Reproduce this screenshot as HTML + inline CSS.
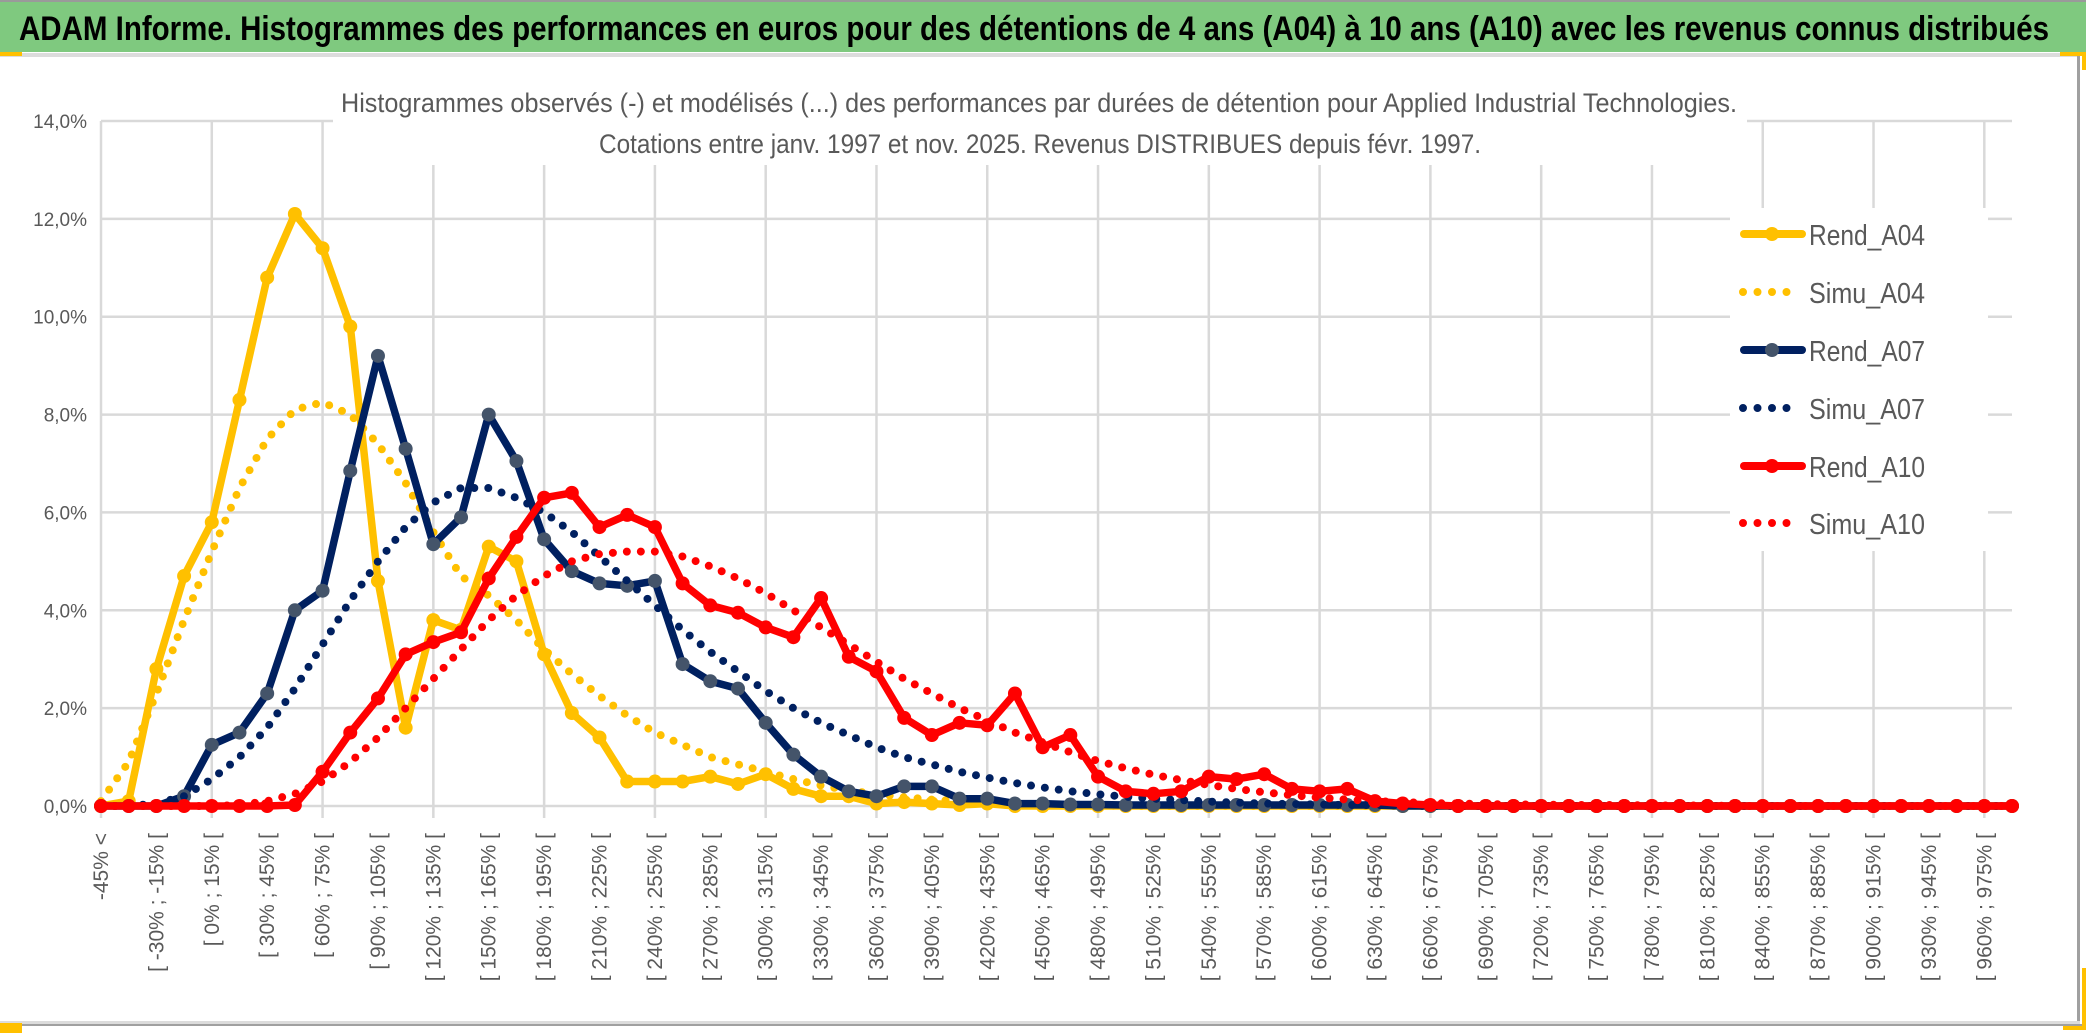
<!DOCTYPE html>
<html><head><meta charset="utf-8"><style>
html,body{margin:0;padding:0;background:#fff;}
svg{display:block;}
</style></head><body>
<svg id="chart" width="2086" height="1033" viewBox="0 0 2086 1033" xmlns="http://www.w3.org/2000/svg">
<rect x="0" y="0" width="2086" height="1033" fill="#fff"/>
<rect x="0" y="0" width="2086" height="2" fill="#9a9a9a"/>
<rect x="0" y="2" width="2086" height="50" fill="#7fc97f"/>
<rect x="0" y="53" width="2078" height="4" fill="#dcdcdc"/>
<rect x="0" y="52" width="22" height="4" fill="#ffc000"/>
<rect x="2060" y="52" width="26" height="4" fill="#ffc000"/>
<rect x="2082" y="52" width="4" height="18" fill="#ffc000"/>
<rect x="2077" y="56" width="3" height="970" fill="#a0a0a0"/>
<rect x="0" y="1021" width="2080" height="3" fill="#dcdcdc"/>
<rect x="0" y="1024" width="2086" height="2" fill="#a0a0a0"/>
<rect x="0" y="1023" width="22" height="10" fill="#ffc000"/>
<rect x="2082" y="968" width="4" height="62" fill="#ffc000"/>
<rect x="2063" y="1026" width="23" height="4" fill="#ffc000"/>
<text x="19" y="40" font-family="Liberation Sans, sans-serif" font-weight="bold" font-size="34" fill="#000" textLength="2030" lengthAdjust="spacingAndGlyphs">ADAM Informe. Histogrammes des performances en euros pour des détentions de 4 ans (A04) à 10 ans (A10) avec les revenus connus distribués</text>
<g id="grid"></g>
<rect x="333" y="80" width="1414" height="85" fill="#fff"/>
<text x="341" y="112" font-family="Liberation Sans, sans-serif" font-size="27" fill="#595959" textLength="1396" lengthAdjust="spacingAndGlyphs">Histogrammes observés (-) et modélisés (...) des performances par durées de détention pour Applied Industrial Technologies.</text>
<text x="599" y="153" font-family="Liberation Sans, sans-serif" font-size="27" fill="#595959" textLength="882" lengthAdjust="spacingAndGlyphs">Cotations entre janv. 1997 et nov. 2025. Revenus DISTRIBUES depuis févr. 1997.</text>
<g id="axes"></g>
<g id="series"></g>
<rect x="1730" y="208" width="258" height="343" fill="#fff"/>
<g id="legend"></g>
</svg>
<script>
const yTicks = [0, 2, 4, 6, 8, 10, 12, 14];
const rendA04 = [0,0.1,2.8,4.7,5.8,8.3,10.8,12.1,11.4,9.8,4.6,1.6,3.8,3.6,5.3,5.0,3.1,1.9,1.4,0.5,0.5,0.5,0.6,0.45,0.65,0.35,0.2,0.2,0.05,0.08,0.05,0.02,0.05,0,0,0,0,0,0,0,0,0,0,0,0,0,0,0,0,0,0,0,0,0,0,0,0,0,0,0,0,0,0,0,0,0,0,0,0,0];
const simuA04 = [0.1,0.9,2.3,3.8,5.2,6.5,7.5,8.1,8.25,8.0,7.4,6.6,5.6,4.7,4.3,3.8,3.2,2.7,2.25,1.85,1.5,1.25,1.0,0.85,0.7,0.55,0.42,0.32,0.24,0.18,0.13,0.1,0.07,0.05,0.03,0.02,0.01,0,0,0,0,0,0,0,0,0,0,0,0,0,0,0,0,0,0,0,0,0,0,0,0,0,0,0,0,0,0,0,0,0];
const rendA07 = [0,0,0,0.2,1.25,1.5,2.3,4.0,4.4,6.85,9.2,7.3,5.35,5.9,8.0,7.05,5.45,4.8,4.55,4.5,4.6,2.9,2.55,2.4,1.7,1.05,0.6,0.3,0.2,0.4,0.4,0.15,0.15,0.05,0.05,0.03,0.03,0.02,0.02,0.02,0.02,0.02,0.02,0.02,0.02,0.02,0.02,0,0,0,0,0,0,0,0,0,0,0,0,0,0,0,0,0,0,0,0,0,0,0];
const simuA07 = [0,0,0.05,0.2,0.55,1.0,1.6,2.4,3.3,4.2,5.0,5.7,6.2,6.5,6.5,6.3,6.0,5.6,5.1,4.6,4.1,3.6,3.15,2.75,2.35,2.0,1.7,1.45,1.2,1.0,0.85,0.7,0.58,0.47,0.38,0.3,0.24,0.19,0.15,0.12,0.09,0.07,0.05,0.04,0.03,0.02,0.02,0.01,0,0,0,0,0,0,0,0,0,0,0,0,0,0,0,0,0,0,0,0,0,0];
const rendA10 = [0,0,0,0,0,0,0,0.02,0.7,1.5,2.2,3.1,3.35,3.55,4.65,5.5,6.3,6.4,5.7,5.95,5.7,4.55,4.1,3.95,3.65,3.45,4.25,3.05,2.75,1.8,1.45,1.7,1.65,2.3,1.2,1.45,0.6,0.3,0.25,0.3,0.6,0.55,0.65,0.35,0.3,0.35,0.1,0.05,0.02,0,0,0,0,0,0,0,0,0,0,0,0,0,0,0,0,0,0,0,0,0];
const simuA10 = [0,0,0,0,0,0.02,0.1,0.25,0.5,0.9,1.4,2.0,2.6,3.2,3.8,4.3,4.7,5.0,5.15,5.2,5.2,5.1,4.9,4.65,4.35,4.0,3.65,3.3,2.95,2.6,2.3,2.0,1.75,1.5,1.3,1.1,0.92,0.77,0.64,0.53,0.43,0.35,0.28,0.22,0.17,0.13,0.1,0.08,0.06,0.05,0.04,0.03,0.03,0.02,0.02,0.02,0.01,0.01,0.01,0,0,0,0,0,0,0,0,0,0,0];
const categories = ["-45% <"];
for (let i = 1; i < 70; i++) { const lo = -45 + 15*(i-1); categories.push("[ " + lo + "% ; " + (lo+15) + "% ["); }

const NS = "http://www.w3.org/2000/svg";
const X0 = 101, X1 = 2012, Y0 = 806, Y14 = 121;
function xs(i){ return X0 + i*(X1-X0)/(categories.length-1); }
function ys(v){ return Y0 - v*(Y0-Y14)/14; }
function mk(tag, attrs, parent){ const e=document.createElementNS(NS,tag); for(const k in attrs) e.setAttribute(k, attrs[k]); parent.appendChild(e); return e; }

const grid = document.getElementById('grid');
yTicks.forEach(t => {
  const l = mk('line',{x1:X0,x2:X1,y1:ys(t),y2:ys(t),stroke:'#d9d9d9','stroke-width':2.5},grid);
  
  
});
for (let i = 0; i < categories.length; i += 4) {
  const l = mk('line',{x1:xs(i),x2:xs(i),y1:ys(14),y2:ys(0)+12,stroke:'#d9d9d9','stroke-width':2.5},grid);
  
  
}
const axes = document.getElementById('axes');
yTicks.forEach(t => {
  const tx = mk('text',{x:87,y:ys(t)+7,'text-anchor':'end','font-family':'Liberation Sans, sans-serif','font-size':19,fill:'#595959'},axes);
  tx.textContent = t.toFixed(1).replace('.',',') + '%';
  
  
});
for (let i = 0; i < categories.length; i += 2) {
  const x = xs(i)+7, y = 833;
  const tx = mk('text',{x:x,y:y,'text-anchor':'end',transform:'rotate(-90 '+x+' '+y+')','font-family':'Liberation Sans, sans-serif','font-size':21,fill:'#595959'},axes);
  tx.textContent = categories[i];
  
  
}

const seriesDefs = [
  {name:'Rend_A04', data:rendA04, color:'#ffc000', dotted:false, marker:'#ffc000'},
  {name:'Simu_A04', data:simuA04, color:'#ffc000', dotted:true},
  {name:'Rend_A07', data:rendA07, color:'#002060', dotted:false, marker:'#44546a'},
  {name:'Simu_A07', data:simuA07, color:'#002060', dotted:true},
  {name:'Rend_A10', data:rendA10, color:'#ff0000', dotted:false, marker:'#ff0000'},
  {name:'Simu_A10', data:simuA10, color:'#ff0000', dotted:true}
];
const sg = document.getElementById('series');
seriesDefs.forEach(s => {
  const g = mk('g',{},sg);
  
  
  const pts = s.data.map((v,i)=>xs(i).toFixed(1)+','+ys(v).toFixed(1)).join(' ');
  const attrs = {points:pts,fill:'none',stroke:s.color,'stroke-width':s.dotted?8:7.5,'stroke-linejoin':'round','stroke-linecap':'round'};
  if (s.dotted) attrs['stroke-dasharray'] = '0 14';
  const pl = mk('polyline',attrs,g);
  
  
  if (!s.dotted) {
    s.data.forEach((v,i)=>{
      const c = mk('circle',{cx:xs(i),cy:ys(v),r:7,fill:s.marker},g);
      
      
    });
  }
});

const lg = document.getElementById('legend');
const legY = [234,292,350,408,466,523];
seriesDefs.forEach((s,k) => {
  const g = mk('g',{},lg);
  
  
  const y = legY[k];
  if (s.dotted) {
    mk('line',{x1:1743,x2:1800,y1:y,y2:y,stroke:s.color,'stroke-width':8,'stroke-linecap':'round','stroke-dasharray':'0 14.5'},g);
  } else {
    mk('line',{x1:1744,x2:1802,y1:y,y2:y,stroke:s.color,'stroke-width':8,'stroke-linecap':'round'},g);
    mk('circle',{cx:1772,cy:y,r:7,fill:s.marker},g);
  }
  const t = mk('text',{x:1809,y:y+11,'font-family':'Liberation Sans, sans-serif','font-size':29,fill:'#595959',textLength:116,lengthAdjust:'spacingAndGlyphs'},g);
  t.textContent = s.name;
});
</script>
</body></html>
